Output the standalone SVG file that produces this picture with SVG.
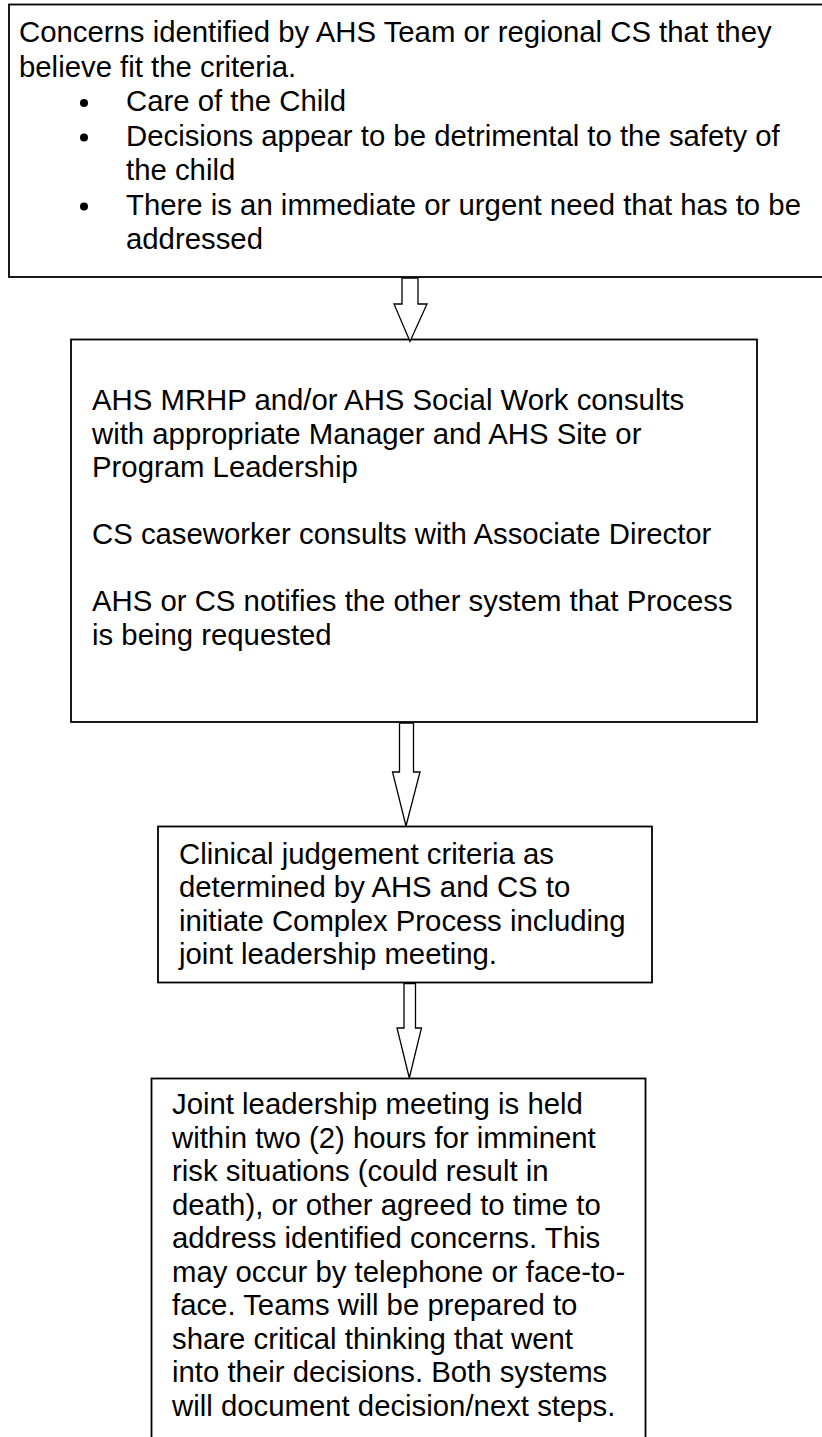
<svg xmlns="http://www.w3.org/2000/svg" width="822" height="1437" viewBox="0 0 822 1437">
  <style>
    .box { fill: #ffffff; stroke: #000000; stroke-width: 1.8; }
    .txt { font-family: "Liberation Sans", Arial, sans-serif; font-size: 29.33px; fill: #000000; }
    .bullet { fill: #000000; }
    .arrow { fill: #ffffff; stroke: #000000; stroke-width: 1.3; stroke-linejoin: miter; }
  </style>
  <rect x="0" y="0" width="822" height="1437" fill="#ffffff"/>

  <!-- Step 1: concerns identified -->
  <g id="node-concerns">
    <rect class="box" x="9" y="4.5" width="830" height="272.5"/>
    <text class="txt" x="19" y="42">Concerns identified by AHS Team or regional CS that they</text>
    <text class="txt" x="19" y="76.5">believe fit the criteria.</text>
    <circle class="bullet" cx="84" cy="103" r="4"/>
    <text class="txt" x="126" y="111">Care of the Child</text>
    <circle class="bullet" cx="84" cy="137.5" r="4"/>
    <text class="txt" x="126" y="145.5">Decisions appear to be detrimental to the safety of</text>
    <text class="txt" x="126" y="180">the child</text>
    <circle class="bullet" cx="84" cy="206.5" r="4"/>
    <text class="txt" x="126" y="214.5">There is an immediate or urgent need that has to be</text>
    <text class="txt" x="126" y="249">addressed</text>
  </g>

  <!-- Step 2: consultations -->
  <g id="node-consult">
    <rect class="box" x="71" y="339.5" width="686" height="382.5"/>
    <text class="txt" x="92" y="410">AHS MRHP and/or AHS Social Work consults</text>
    <text class="txt" x="92" y="443.5">with appropriate Manager and AHS Site or</text>
    <text class="txt" x="92" y="477">Program Leadership</text>
    <text class="txt" x="92" y="544">CS caseworker consults with Associate Director</text>
    <text class="txt" x="92" y="611">AHS or CS notifies the other system that Process</text>
    <text class="txt" x="92" y="644.5">is being requested</text>
  </g>

  <!-- Step 3: clinical judgement -->
  <g id="node-judgement">
    <rect class="box" x="158" y="826.5" width="494" height="156"/>
    <text class="txt" x="179" y="863.5">Clinical judgement criteria as</text>
    <text class="txt" x="179" y="897">determined by AHS and CS to</text>
    <text class="txt" x="179" y="930.5">initiate Complex Process including</text>
    <text class="txt" x="179" y="964">joint leadership meeting.</text>
  </g>

  <!-- Step 4: joint leadership meeting -->
  <g id="node-meeting">
    <rect class="box" x="151.5" y="1078.5" width="494" height="380"/>
    <text class="txt" x="172" y="1114">Joint leadership meeting is held</text>
    <text class="txt" x="172" y="1147.5">within two (2) hours for imminent</text>
    <text class="txt" x="172" y="1181">risk situations (could result in</text>
    <text class="txt" x="172" y="1214.5">death), or other agreed to time to</text>
    <text class="txt" x="172" y="1248">address identified concerns. This</text>
    <text class="txt" x="172" y="1281.5">may occur by telephone or face-to-</text>
    <text class="txt" x="172" y="1315">face. Teams will be prepared to</text>
    <text class="txt" x="172" y="1348.5">share critical thinking that went</text>
    <text class="txt" x="172" y="1382">into their decisions. Both systems</text>
    <text class="txt" x="172" y="1415.5">will document decision/next steps.</text>
  </g>

  <!-- Block arrows between steps -->
  <g id="connectors">
    <polygon class="arrow" points="402,278 418,278 418,304 427,304 410,341.5 394,304 402,304"/>
    <polygon class="arrow" points="399.5,723 413.5,723 413.5,772 420,772 406,826 392.5,772 399.5,772"/>
    <polygon class="arrow" points="404,983.5 415.5,983.5 415.5,1028 421.5,1028 409.3,1078 397,1028 404,1028"/>
  </g>
</svg>
